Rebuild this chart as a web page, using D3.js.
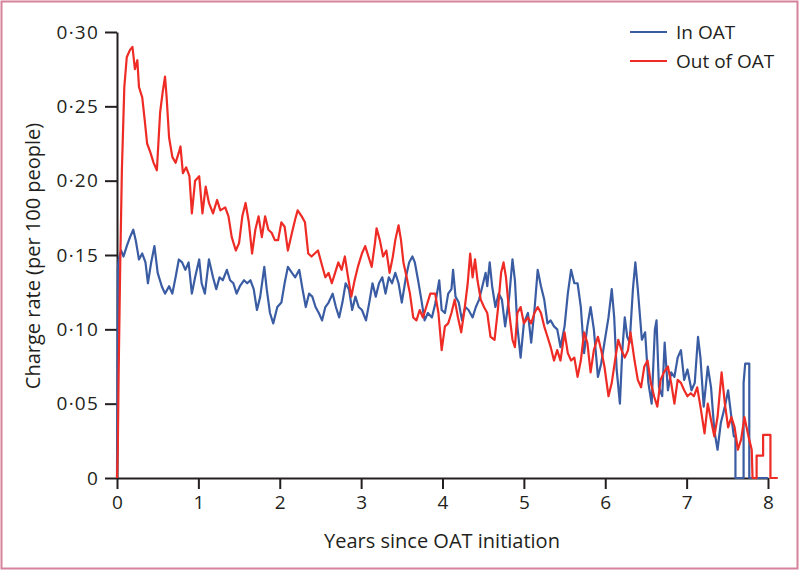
<!DOCTYPE html>
<html>
<head>
<meta charset="utf-8">
<script src="https://cdn.jsdelivr.net/npm/d3@7/dist/d3.min.js"></script>
<style>
  html, body { margin: 0; padding: 0; background: #fff; }
  svg { display: block; }
  text { font-family: "Open Sans", "Noto Sans", sans-serif; fill: #231f20; }
</style>
</head>
<body>
<svg id="chart" width="800" height="570"></svg>
<script>
// ---- data ----
const seriesNames = ["In OAT", "Out of OAT"];
const xTicks = [0, 1, 2, 3, 4, 5, 6, 7, 8];
const yTicks = [0, 0.05, 0.10, 0.15, 0.20, 0.25, 0.30];
const xTitle = "Years since OAT initiation";
const yTitle = "Charge rate (per 100 people)";

const inOatT = [0,0.01,0.02,0.05,0.08,0.12,0.16,0.20,0.23,0.27,0.31,0.35,0.38,0.42,0.46,0.50,0.55,0.59,0.64,0.68,0.72,0.76,0.80,0.84,0.88,0.92,0.96,1.01,1.04,1.08,1.13,1.18,1.22,1.26,1.30,1.35,1.39,1.43,1.47,1.51,1.56,1.60,1.64,1.68,1.72,1.76,1.81,1.84,1.88,1.92,1.97,2.02,2.06,2.10,2.15,2.19,2.24,2.28,2.32,2.36,2.40,2.44,2.48,2.52,2.56,2.60,2.65,2.69,2.73,2.77,2.81,2.85,2.89,2.93,2.97,3.01,3.06,3.10,3.14,3.18,3.22,3.26,3.30,3.34,3.38,3.42,3.46,3.50,3.55,3.59,3.63,3.66,3.70,3.74,3.78,3.82,3.87,3.91,3.96,3.99,4.03,4.07,4.11,4.13,4.16,4.20,4.24,4.28,4.32,4.37,4.41,4.45,4.49,4.53,4.55,4.58,4.61,4.65,4.69,4.73,4.77,4.82,4.86,4.89,4.92,4.96,5.00,5.05,5.09,5.13,5.17,5.21,5.25,5.29,5.33,5.37,5.41,5.45,5.50,5.54,5.58,5.62,5.66,5.70,5.74,5.78,5.82,5.86,5.91,5.95,5.99,6.04,6.08,6.11,6.14,6.18,6.21,6.24,6.27,6.30,6.34,6.37,6.40,6.45,6.49,6.53,6.57,6.61,6.63,6.66,6.70,6.73,6.77,6.81,6.85,6.89,6.93,6.97,7.01,7.06,7.10,7.14,7.17,7.21,7.26,7.30,7.34,7.38,7.42,7.47,7.51,7.55,7.58,7.60,7.60,7.70,7.70,7.72,7.77,7.77,8.00];
const inOatV = [0,0.140,0.147,0.153,0.149,0.156,0.162,0.167,0.160,0.147,0.151,0.145,0.131,0.145,0.156,0.138,0.129,0.124,0.129,0.124,0.135,0.147,0.145,0.140,0.145,0.124,0.135,0.147,0.131,0.124,0.147,0.135,0.127,0.135,0.133,0.140,0.133,0.131,0.124,0.129,0.133,0.131,0.133,0.127,0.113,0.122,0.142,0.127,0.111,0.104,0.115,0.118,0.131,0.142,0.138,0.135,0.140,0.127,0.115,0.124,0.122,0.115,0.111,0.106,0.115,0.118,0.124,0.115,0.108,0.118,0.131,0.127,0.113,0.122,0.115,0.113,0.106,0.118,0.131,0.122,0.131,0.135,0.124,0.135,0.131,0.138,0.131,0.118,0.135,0.145,0.149,0.145,0.133,0.120,0.106,0.111,0.108,0.117,0.133,0.113,0.111,0.124,0.127,0.140,0.122,0.118,0.106,0.115,0.113,0.108,0.115,0.120,0.129,0.138,0.129,0.145,0.129,0.115,0.124,0.120,0.102,0.122,0.147,0.133,0.102,0.081,0.104,0.111,0.091,0.113,0.140,0.129,0.120,0.104,0.106,0.102,0.100,0.088,0.102,0.124,0.140,0.131,0.131,0.115,0.084,0.102,0.115,0.100,0.068,0.077,0.091,0.108,0.127,0.108,0.073,0.050,0.086,0.108,0.095,0.091,0.127,0.145,0.127,0.093,0.098,0.064,0.050,0.100,0.106,0.061,0.055,0.091,0.059,0.071,0.068,0.081,0.086,0.066,0.073,0.059,0.064,0.095,0.081,0.048,0.075,0.061,0.032,0.019,0.037,0.048,0.059,0.041,0.028,0.028,0,0,0.064,0.077,0.077,0,0];

const outOatT = [0,0.01,0.02,0.04,0.06,0.09,0.12,0.16,0.19,0.22,0.25,0.27,0.31,0.34,0.37,0.41,0.45,0.49,0.53,0.56,0.59,0.61,0.64,0.68,0.72,0.76,0.78,0.81,0.85,0.89,0.92,0.96,1.01,1.05,1.09,1.13,1.18,1.23,1.27,1.33,1.37,1.41,1.46,1.50,1.54,1.58,1.62,1.66,1.70,1.74,1.78,1.82,1.86,1.90,1.94,1.98,2.02,2.06,2.10,2.15,2.19,2.22,2.27,2.31,2.35,2.39,2.43,2.47,2.51,2.56,2.60,2.64,2.68,2.72,2.76,2.80,2.84,2.88,2.92,2.96,3.01,3.05,3.09,3.13,3.17,3.19,3.23,3.27,3.31,3.35,3.39,3.42,3.46,3.49,3.52,3.56,3.60,3.64,3.68,3.72,3.76,3.80,3.85,3.91,3.95,3.99,4.03,4.07,4.11,4.15,4.19,4.23,4.27,4.31,4.34,4.37,4.40,4.43,4.47,4.51,4.55,4.59,4.64,4.68,4.72,4.75,4.78,4.82,4.86,4.89,4.92,4.96,5.00,5.05,5.09,5.13,5.17,5.21,5.25,5.29,5.33,5.37,5.41,5.45,5.50,5.54,5.58,5.62,5.66,5.70,5.74,5.78,5.82,5.86,5.91,5.95,5.99,6.04,6.08,6.12,6.16,6.20,6.24,6.28,6.31,6.36,6.40,6.44,6.48,6.52,6.56,6.60,6.64,6.68,6.72,6.77,6.81,6.85,6.89,6.93,6.97,7.01,7.05,7.09,7.13,7.17,7.22,7.26,7.30,7.34,7.38,7.43,7.47,7.51,7.55,7.59,7.63,7.67,7.71,7.76,7.80,7.81,7.86,7.86,7.94,7.94,8.03,8.03,8.12];
const outOatV = [0,0.020,0.070,0.145,0.207,0.263,0.283,0.288,0.290,0.275,0.281,0.263,0.256,0.241,0.225,0.219,0.212,0.207,0.246,0.259,0.270,0.256,0.229,0.216,0.212,0.219,0.223,0.205,0.209,0.203,0.178,0.200,0.203,0.178,0.196,0.185,0.178,0.187,0.180,0.182,0.176,0.162,0.153,0.158,0.176,0.185,0.172,0.151,0.167,0.176,0.162,0.176,0.167,0.165,0.160,0.160,0.172,0.169,0.153,0.165,0.174,0.180,0.176,0.172,0.151,0.149,0.151,0.153,0.145,0.135,0.138,0.131,0.138,0.145,0.140,0.149,0.135,0.122,0.133,0.142,0.151,0.156,0.149,0.142,0.158,0.168,0.160,0.149,0.153,0.138,0.149,0.160,0.170,0.160,0.145,0.135,0.124,0.108,0.106,0.113,0.108,0.115,0.124,0.124,0.111,0.086,0.102,0.104,0.111,0.120,0.108,0.098,0.113,0.131,0.151,0.135,0.147,0.133,0.120,0.115,0.111,0.095,0.093,0.113,0.138,0.145,0.135,0.111,0.093,0.088,0.111,0.115,0.104,0.108,0.104,0.111,0.115,0.111,0.102,0.095,0.088,0.079,0.086,0.079,0.098,0.084,0.079,0.081,0.068,0.079,0.098,0.091,0.071,0.086,0.095,0.086,0.075,0.055,0.064,0.079,0.093,0.086,0.081,0.086,0.098,0.079,0.066,0.061,0.075,0.079,0.064,0.055,0.048,0.066,0.071,0.075,0.064,0.050,0.066,0.064,0.059,0.055,0.057,0.055,0.061,0.048,0.030,0.050,0.039,0.028,0.041,0.071,0.050,0.034,0.041,0.034,0.019,0.026,0.041,0.028,0.019,0,0,0.015,0.015,0.029,0.029,0,0];

const seriesColors = ["#3a5ca3", "#ee2b24"];

// ---- chart ----
const svg = d3.select("#chart");
const W = 800, H = 570;

svg.append("rect")
  .attr("x", 1.5).attr("y", 1.5)
  .attr("width", W - 4).attr("height", H - 3)
  .attr("fill", "#fff")
  .attr("stroke", "#d6829c")
  .attr("stroke-width", 2);

const x = d3.scaleLinear().domain([0, 8]).range([117, 768]);
const y = d3.scaleLinear().domain([0, 0.30]).range([478, 32]);

const fmtY = d => d === 0 ? "0" : d3.format(".2f")(d).replace(".", "\u00B7");

const yAxis = svg.append("g")
  .attr("transform", `translate(${x(0)},0)`)
  .call(d3.axisLeft(y).tickValues(yTicks).tickFormat(fmtY).tickSize(12).tickSizeOuter(0).tickPadding(6));

const xAxis = svg.append("g")
  .attr("transform", `translate(0,${y(0)})`)
  .call(d3.axisBottom(x).tickValues(xTicks).tickFormat(d3.format("d")).tickSize(11).tickSizeOuter(0).tickPadding(7));

[yAxis, xAxis].forEach(g => {
  g.selectAll("path.domain").attr("stroke", "#231f20").attr("stroke-width", 2);
  g.selectAll(".tick line").attr("stroke", "#231f20").attr("stroke-width", 2);
  g.selectAll(".tick text").attr("font-size", 19).attr("font-family", "Open Sans").attr("fill", "#231f20");
});
yAxis.selectAll(".tick text").attr("letter-spacing", 1.2);

const series = [
  { name: seriesNames[0], t: inOatT, v: inOatV, color: seriesColors[0] },
  { name: seriesNames[1], t: outOatT, v: outOatV, color: seriesColors[1] }
];

const line = d3.line()
  .x(d => x(d[0]))
  .y(d => y(d[1]))
  .curve(d3.curveLinear);

series.forEach(s => {
  const pts = s.t.map((t, i) => [t, s.v[i]]);
  svg.append("path")
    .datum(pts)
    .attr("fill", "none")
    .attr("stroke", s.color)
    .attr("stroke-width", 2.2)
    .attr("stroke-linejoin", "round")
    .attr("d", line);
});

// axis titles
svg.append("text")
  .attr("x", 442).attr("y", 548)
  .attr("text-anchor", "middle")
  .attr("font-size", 20)
  .text(xTitle);

svg.append("text")
  .attr("transform", "translate(40,256) rotate(-90)")
  .attr("text-anchor", "middle")
  .attr("font-size", 20)
  .text(yTitle);

// legend
const legend = svg.append("g");
series.forEach((s, i) => {
  const ly = 32 + i * 29;
  legend.append("line")
    .attr("x1", 630).attr("x2", 667)
    .attr("y1", ly).attr("y2", ly)
    .attr("stroke", s.color).attr("stroke-width", 2);
  legend.append("text")
    .attr("x", 676).attr("y", ly)
    .attr("dy", "0.35em")
    .attr("font-size", 19)
    .text(s.name);
});
</script>
</body>
</html>
